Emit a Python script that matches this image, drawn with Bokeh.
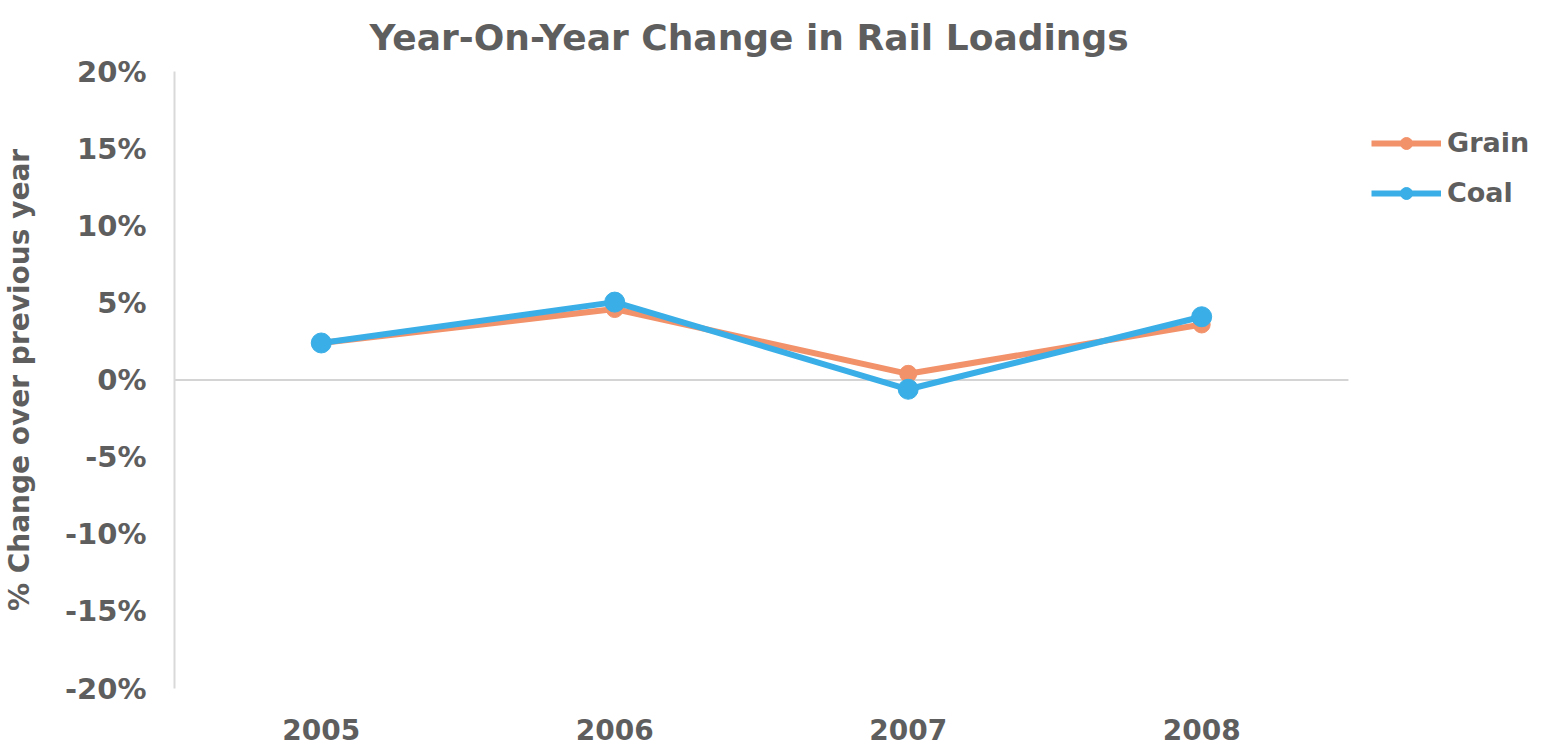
from bokeh.plotting import figure
from bokeh.models import Legend, LegendItem, FixedTicker, CustomJSTickFormatter, ColumnDataSource, Range1d
from bokeh.embed import file_html
from bokeh.resources import INLINE

years = ["2005", "2006", "2007", "2008"]
grain = [2.4, 4.6, 0.4, 3.6]
coal = [2.4, 5.05, -0.6, 4.1]
y_ticks = [-20, -15, -10, -5, 0, 5, 10, 15, 20]

TXT = "#5e5e5e"
FONT = "DejaVu Sans"
GRAIN_C = "#f2926b"
COAL_C = "#3aaee6"

xpos = list(range(len(years)))
LEFT = 173
FRAME_W = 1531 - LEFT
unit = 293.7   # pixel width of one category slot

p = figure(width=1531, height=749, output_backend="svg", toolbar_location=None,
           x_range=Range1d(-0.5, -0.5 + FRAME_W / unit), y_range=Range1d(-20, 20),
           min_border_left=LEFT, min_border_right=0, min_border_top=70, min_border_bottom=61)
p.outline_line_color = None
p.xgrid.grid_line_color = None
p.ygrid.grid_line_color = None

p.title.text = "Year-On-Year Change in Rail Loadings"
p.title.align = "left"
p.title.text_font = FONT
p.title.text_font_size = "36px"
p.title.text_font_style = "bold"
p.title.text_color = TXT
p.title.offset = 195
p.title.standoff = 28

p.yaxis.ticker = FixedTicker(ticks=y_ticks)
p.yaxis.formatter = CustomJSTickFormatter(code="return tick + '%';")
p.yaxis.axis_line_color = "#d9d9d9"
p.yaxis.axis_line_width = 2
p.yaxis.major_tick_line_color = None
p.yaxis.minor_tick_line_color = None
p.yaxis.major_label_text_font = FONT
p.yaxis.major_label_text_font_size = "29px"
p.yaxis.major_label_text_font_style = "bold"
p.yaxis.major_label_text_color = TXT
p.yaxis.major_label_standoff = 22
p.yaxis.axis_label = "% Change over previous year"
p.yaxis.axis_label_text_font = FONT
p.yaxis.axis_label_text_font_size = "28px"
p.yaxis.axis_label_text_font_style = "bold"
p.yaxis.axis_label_text_color = TXT
p.yaxis.axis_label_standoff = 26

p.xaxis.ticker = FixedTicker(ticks=xpos)
p.xaxis.major_label_overrides = {i: y for i, y in zip(xpos, years)}
p.xaxis.axis_line_color = None
p.xaxis.major_tick_line_color = None
p.xaxis.minor_tick_line_color = None
p.xaxis.major_label_text_font = FONT
p.xaxis.major_label_text_font_size = "28px"
p.xaxis.major_label_text_font_style = "bold"
p.xaxis.major_label_text_color = TXT
p.xaxis.major_label_standoff = 24

# zero line across the category area
p.segment(x0=[xpos[0] - 0.5], x1=[xpos[-1] + 0.5], y0=[0], y1=[0],
          line_color="#d4d4d4", line_width=2)

src = ColumnDataSource(dict(x=xpos, grain=grain, coal=coal))
gl = p.line("x", "grain", source=src, line_color=GRAIN_C, line_width=6)
gm = p.scatter("x", "grain", source=src, size=17, fill_color=GRAIN_C, line_color=GRAIN_C)
cl = p.line("x", "coal", source=src, line_color=COAL_C, line_width=6)
cm = p.scatter("x", "coal", source=src, size=20, fill_color=COAL_C, line_color=COAL_C)

legend = Legend(items=[LegendItem(label="Grain", renderers=[gl, gm]),
                       LegendItem(label="Coal", renderers=[cl, cm])])
legend.border_line_color = None
legend.background_fill_alpha = 0
legend.label_text_font = FONT
legend.label_text_font_size = "27px"
legend.label_text_font_style = "bold"
legend.label_text_color = TXT
legend.glyph_width = 70
legend.glyph_height = 30
legend.label_height = 30
legend.spacing = 19
legend.label_standoff = 6
legend.margin = 0
legend.padding = 0
legend.location = (1197, 480)
p.add_layout(legend, "center")

open("out.html", "w").write(file_html(p, INLINE))
